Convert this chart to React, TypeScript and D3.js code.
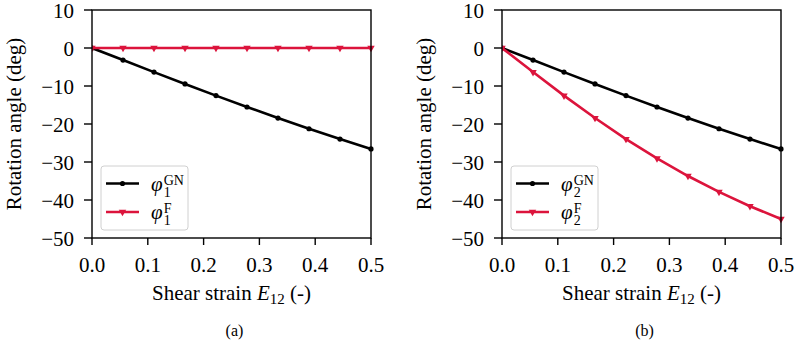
import React from "react";
import * as d3 from "d3";

const strain = [0, 0.0556, 0.1111, 0.1667, 0.2222, 0.2778, 0.3333, 0.3889, 0.4444, 0.5];
const gnAngle = [0, -3.18, -6.34, -9.46, -12.53, -15.52, -18.43, -21.25, -23.96, -26.57];
const fAngle1 = [0, 0, 0, 0, 0, 0, 0, 0, 0, 0];
const fAngle2 = [0, -6.34, -12.53, -18.43, -23.96, -29.05, -33.69, -37.87, -41.63, -45.0];
const xTicks = [0, 0.1, 0.2, 0.3, 0.4, 0.5];
const yTicks = [10, 0, -10, -20, -30, -40, -50];
const captions = ["(a)", "(b)"];
const subIdx = ["1", "2"];

const FONT = "Liberation Serif, Times New Roman, Times, serif";
const RED = "#dc143c";

function fmtY(v: number) {
  return v < 0 ? "\u2212" + Math.abs(v) : String(v);
}

function Panel({ left, gn, f, caption, sub }: { left: number; gn: number[]; f: number[]; caption: string; sub: string }) {
  const top = 10, bottom = 238, right = left + 279;
  const x = d3.scaleLinear().domain([0, 0.5]).range([left, right]);
  const y = d3.scaleLinear().domain([-50, 10]).range([bottom, top]);
  const line = d3.line<number>().x((_, i) => x(strain[i])).y((d) => y(d));
  const tri = d3.symbol().type(d3.symbolTriangle).size(24)();
  const cx = (left + right) / 2;
  const lgX = left + 9, lgY = 166;
  const rows = [
    { y: 183.5, color: "#000", sup: "GN", marker: "circle" },
    { y: 212, color: RED, sup: "F", marker: "tri" },
  ];
  const ts = { fontFamily: FONT };
  return (
    <g style={ts}>
      <clipPath id={"clip" + sub}>
        <rect x={left} y={top - 4} width={right - left + 4} height={bottom - top + 8} />
      </clipPath>
      <g clipPath={`url(#clip${sub})`}>
        <path d={line(gn) || ""} fill="none" stroke="#000" strokeWidth={2.6} />
        {gn.map((v, i) => (
          <circle key={i} cx={x(strain[i])} cy={y(v)} r={2.6} fill="#000" />
        ))}
        <path d={line(f) || ""} fill="none" stroke={RED} strokeWidth={2.6} />
        {f.map((v, i) => (
          <path key={i} d={tri || ""} transform={`translate(${x(strain[i])},${y(v)}) rotate(180)`} fill={RED} />
        ))}
      </g>
      <rect x={left} y={top} width={right - left} height={bottom - top} fill="none" stroke="#000" strokeWidth={1.4} />
      {xTicks.map((t) => (
        <g key={t}>
          <line x1={x(t)} x2={x(t)} y1={bottom} y2={bottom + 7} stroke="#000" strokeWidth={1.4} />
          <text x={x(t)} y={272} textAnchor="middle" style={{ ...ts, fontSize: 21 }}>{t.toFixed(1)}</text>
        </g>
      ))}
      {yTicks.map((t) => (
        <g key={t}>
          <line x1={left - 8} x2={left} y1={y(t)} y2={y(t)} stroke="#000" strokeWidth={1.4} />
          <text x={left - 18} y={y(t) + 7.5} textAnchor="end" style={{ ...ts, fontSize: 21 }}>{fmtY(t)}</text>
        </g>
      ))}
      <text transform={`translate(${left - 71},${(top + bottom) / 2}) rotate(-90)`} textAnchor="middle" style={{ ...ts, fontSize: 21 }}>
        Rotation angle (deg)
      </text>
      <text x={cx} y={300} textAnchor="middle" style={{ ...ts, fontSize: 21 }}>
        Shear strain <tspan fontStyle="italic">E</tspan>
        <tspan style={{ fontSize: 15 }} dy={4}>12</tspan>
        <tspan dy={-4}> (-)</tspan>
      </text>
      <text x={cx + 3} y={336} textAnchor="middle" style={{ ...ts, fontSize: 16 }}>{caption}</text>
      <rect x={lgX} y={lgY} width={87} height={64} rx={3} fill="#fff" fillOpacity={0.8} stroke="#d0d0d0" strokeWidth={1} />
      {rows.map((r) => (
        <g key={r.sup}>
          <line x1={left + 14} x2={left + 47} y1={r.y} y2={r.y} stroke={r.color} strokeWidth={2.6} />
          {r.marker === "circle" ? (
            <circle cx={left + 30.5} cy={r.y} r={2.6} fill={r.color} />
          ) : (
            <path d={tri || ""} transform={`translate(${left + 30.5},${r.y}) rotate(180)`} fill={r.color} />
          )}
          <text x={left + 59} y={r.y + 7} style={{ ...ts, fontSize: 21 }}>
            <tspan fontStyle="italic">φ</tspan>
            <tspan style={{ fontSize: 14 }} dx={1} dy={6}>{sub}</tspan>
            <tspan style={{ fontSize: 14 }} dx={-7} dy={-12}>{r.sup}</tspan>
          </text>
        </g>
      ))}
    </g>
  );
}

export default function App() {
  return (
    <svg width={795} height={345} style={{ position: "absolute", left: 0, top: 0, background: "#fff" }}>
      <rect width={795} height={345} fill="#fff" />
      <Panel left={92} gn={gnAngle} f={fAngle1} caption={captions[0]} sub={subIdx[0]} />
      <Panel left={502} gn={gnAngle} f={fAngle2} caption={captions[1]} sub={subIdx[1]} />
    </svg>
  );
}
